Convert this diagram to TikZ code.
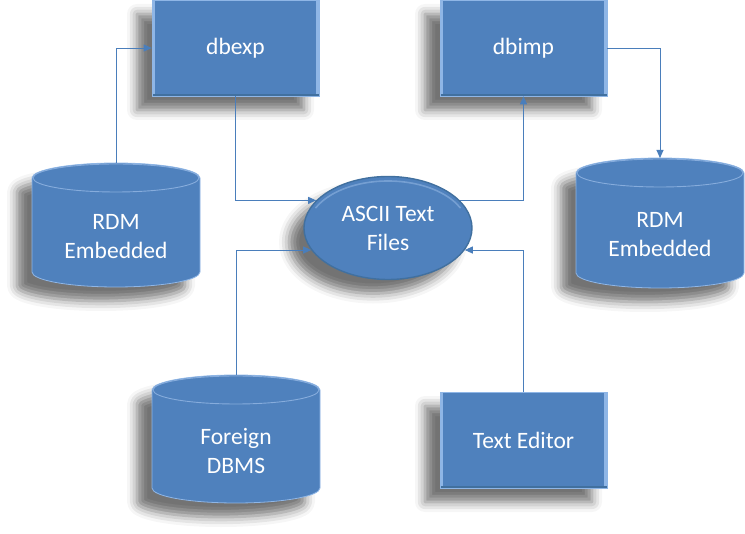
\documentclass[tikz,border=0pt]{standalone}
\usepackage{fontspec}
\setmainfont{Carlito}
\usetikzlibrary{arrows.meta,shapes.geometric,shadows.blur}
\definecolor{boxblue}{HTML}{4F81BD}
\definecolor{linkblue}{HTML}{4A7EBB}
\definecolor{bevellight}{HTML}{8FB6E6}
\definecolor{beveldark}{HTML}{41709F}
\definecolor{rimlight}{HTML}{86ACDC}
% #1 name, #2 centre x, #3 top y, #4 bottom y, #5 text (pixel coords, y downwards)
\newcommand{\dbcyl}[5]{%
  \fill[boxblue,softshadow,draw=bevellight,line width=0.8pt]
    (#2-84,-#3-15) -- (#2-84,-#4+15)
    arc[start angle=180,end angle=360,x radius=84,y radius=15]
    -- (#2+84,-#3-15)
    arc[start angle=0,end angle=180,x radius=84,y radius=15] -- cycle;
  \draw[rimlight,line width=0.9pt] (#2,-#3-15) ellipse[x radius=83,y radius=14];
  \coordinate (#1top) at (#2,-#3);
  \node[labeltext] (#1) at (#2,-#3/2-#4/2-12) {#5};
}
\begin{document}
\begin{tikzpicture}[x=1pt,y=1pt,
  softshadow/.style={blur shadow={shadow xshift=-15pt,shadow yshift=-14pt,shadow blur radius=10pt,shadow opacity=55}},
  labeltext/.style={text=white,font=\fontsize{23.5}{29}\selectfont,align=center,inner sep=0pt},
  procbox/.style={rectangle,fill=boxblue,minimum width=167pt,minimum height=96pt,labeltext,softshadow,
    draw=bevellight,line width=0.6pt,
    path picture={
      \fill[bevellight] (path picture bounding box.north west) rectangle ([xshift=3pt]path picture bounding box.south west);
      \fill[bevellight] (path picture bounding box.north east) rectangle ([xshift=-3pt]path picture bounding box.south east);
      \fill[beveldark] (path picture bounding box.south west) rectangle ([yshift=1.5pt]path picture bounding box.south east);
    }},
  filebox/.style={ellipse,fill=boxblue,minimum width=168pt,minimum height=103pt,labeltext,softshadow,
    draw=beveldark,line width=1.4pt},
  link/.style={draw=linkblue,line width=0.9pt,-{Triangle[length=8pt,width=7pt]}}
]
\useasboundingbox (0,0) rectangle (745,-534);

\node[procbox] (dbexp) at (235.5,-48) {dbexp};
\node[procbox] (dbimp) at (523.5,-48) {dbimp};
\node[procbox] (editor) at (523.5,-440) {Text Editor};
\node[filebox] (ascii) at (388,-228) {ASCII Text\\Files};
\draw[rimlight,line width=1.6pt,opacity=0.7] (ascii.center) ++(25:80 and 47) arc[start angle=25,end angle=155,x radius=80,y radius=47];

\dbcyl{rdmleft}{116}{163}{287}{RDM\\Embedded}
\dbcyl{rdmright}{660}{158}{288}{RDM\\Embedded}
\dbcyl{foreign}{236}{375}{503}{Foreign\\DBMS}

\draw[link] (rdmlefttop) |- (dbexp.west);
\draw[link] (dbexp.south) |- (ascii.159);
\draw[link] (ascii.21) -| (dbimp.south);
\draw[link] (dbimp.east) -| (rdmrighttop);
\draw[link] (foreigntop) |- (ascii.196);
\draw[link] (editor.north) |- (ascii.344);
\end{tikzpicture}
\end{document}
